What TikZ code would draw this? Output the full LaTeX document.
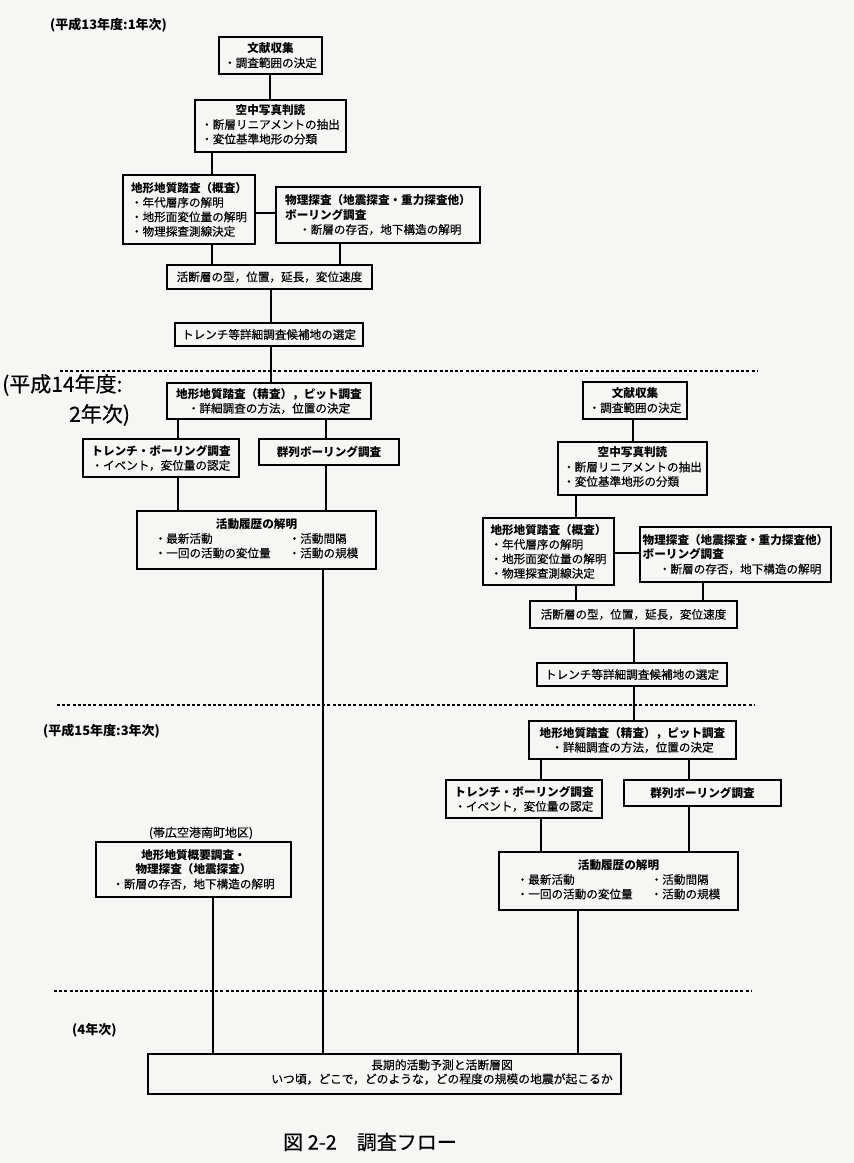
\documentclass[tikz,border=0pt]{standalone}
\usepackage{fontspec}
\setmainfont{Noto Sans CJK JP}[UprightFeatures={FakeBold=0.35}]
\definecolor{bgc}{RGB}{246,246,244}
\begin{document}
\begin{tikzpicture}[x=1pt,y=-1pt,
  bx/.style={draw, line width=1.5pt, inner sep=0pt, font=\fontsize{11.6}{14.5}\selectfont},
  ln/.style={line width=1.3pt},
  dl/.style={line width=1.3pt, dash pattern=on 3pt off 2.2pt},
  yr/.style={font=\bfseries\fontsize{13}{15}\selectfont, anchor=west, inner sep=0pt},
  big/.style={font=\fontsize{21}{23}\selectfont, anchor=west, inner sep=0pt}]
\fill[bgc] (0,0) rectangle (854,1163);
\useasboundingbox (0,0) rectangle (854,1163);

% ---------- labels ----------
\node[yr] (y1) at (50,25) {(平成13年度:1年次)};
\node[big] (y2a) at (2,385) {(平成14年度:};
\node[big] (y2b) at (69,415) {2年次)};
\node[yr] (y3) at (43,731) {(平成15年度:3年次)};
\node[yr] (y4) at (72,1030) {(4年次)};
\node[font=\fontsize{12}{14}\selectfont, inner sep=0pt] (obi) at (201,833) {(帯広空港南町地区)};
\node[big, font=\fontsize{20}{22}\selectfont] (cap) at (283,1142) {図 2-2　調査フロー};

% ---------- dashed separators ----------
\draw[dl] (60,371) -- (757,371);
\draw[dl] (57,705) -- (755,705);
\draw[dl] (54,991) -- (752,991);

% ---------- year 1 ----------
\node[bx, minimum width=103pt, minimum height=37pt, align=center] (a1) at (270.5,55.5)
  {{\bfseries 文献収集}\\・調査範囲の決定};
\node[bx, minimum width=151pt, minimum height=52pt] (a2) at (270.5,126)
  {\begin{tabular}{@{}l@{}}\multicolumn{1}{@{}c@{}}{\bfseries 空中写真判読}\\・断層リニアメントの抽出\\・変位基準地形の分類\end{tabular}};
\node[bx, minimum width=132pt, minimum height=69pt, align=left] (a3) at (189,209.5)
  {{\bfseries 地形地質踏査（概査）}\\・年代層序の解明\\・地形面変位量の解明\\・物理探査測線決定};
\node[bx, minimum width=204pt, minimum height=56pt, align=left] (a4) at (378,215)
  {{\bfseries 物理探査（地震探査・重力探査他）}\\{\bfseries ボーリング調査}\\\hspace*{1.2em}・断層の存否，地下構造の解明};
\node[bx, minimum width=205pt, minimum height=24pt] (a5) at (269.5,277)
  {活断層の型，位置，延長，変位速度};
\node[bx, minimum width=188pt, minimum height=23pt] (a6) at (269,334.5)
  {トレンチ等詳細調査候補地の選定};

% ---------- year 2 left ----------
\node[bx, minimum width=204pt, minimum height=36pt, align=center] (b1) at (269,401)
  {{\bfseries 地形地質踏査（精査），ピット調査}\\・詳細調査の方法，位置の決定};
\node[bx, minimum width=156pt, minimum height=38pt, align=left] (b2) at (161,458)
  {{\bfseries トレンチ・ボーリング調査}\\・イベント，変位量の認定};
\node[bx, minimum width=140pt, minimum height=26pt] (b3) at (329,452)
  {{\bfseries 群列ボーリング調査}};
\node[bx, minimum width=239pt, minimum height=58pt] (b4) at (256.5,540)
  {\begin{tabular}{@{}l@{\hspace{18pt}}l@{}}\multicolumn{2}{c}{\bfseries 活動履歴の解明}\\・最新活動 & ・活動間隔\\・一回の活動の変位量 & ・活動の規模\end{tabular}};

% ---------- year 2 right ----------
\node[bx, minimum width=104pt, minimum height=37pt, align=center] (c1) at (635,400.5)
  {{\bfseries 文献収集}\\・調査範囲の決定};
\node[bx, minimum width=149pt, minimum height=53pt] (c2) at (632.5,468.5)
  {\begin{tabular}{@{}l@{}}\multicolumn{1}{@{}c@{}}{\bfseries 空中写真判読}\\・断層リニアメントの抽出\\・変位基準地形の分類\end{tabular}};
\node[bx, minimum width=131pt, minimum height=67pt, align=left] (c3) at (548.5,551.5)
  {{\bfseries 地形地質踏査（概査）}\\・年代層序の解明\\・地形面変位量の解明\\・物理探査測線決定};
\node[bx, minimum width=191pt, minimum height=55pt, align=left] (c4) at (735.5,554.5)
  {{\bfseries 物理探査（地震探査・重力探査他）}\\{\bfseries ボーリング調査}\\\hspace*{1.4em}・断層の存否，地下構造の解明};
\node[bx, minimum width=207pt, minimum height=27pt] (c5) at (633.5,614.5)
  {活断層の型，位置，延長，変位速度};
\node[bx, minimum width=190pt, minimum height=23pt] (c6) at (632,674.5)
  {トレンチ等詳細調査候補地の選定};

% ---------- year 3 ----------
\node[bx, minimum width=207pt, minimum height=38pt, align=center] (d1) at (632.5,740)
  {{\bfseries 地形地質踏査（精査），ピット調査}\\・詳細調査の方法，位置の決定};
\node[bx, minimum width=156pt, minimum height=38pt, align=left] (d2) at (524,799)
  {{\bfseries トレンチ・ボーリング調査}\\・イベント，変位量の認定};
\node[bx, minimum width=157pt, minimum height=26pt] (d3) at (702.5,793)
  {{\bfseries 群列ボーリング調査}};
\node[bx, minimum width=239pt, minimum height=58pt] (d4) at (618.5,881)
  {\begin{tabular}{@{}l@{\hspace{18pt}}l@{}}\multicolumn{2}{c}{\bfseries 活動履歴の解明}\\・最新活動 & ・活動間隔\\・一回の活動の変位量 & ・活動の規模\end{tabular}};
\node[bx, minimum width=195pt, minimum height=55pt, align=center] (f) at (193.5,869.5)
  {{\bfseries 地形地質概要調査・}\\{\bfseries 物理探査（地震探査）}\\・断層の存否，地下構造の解明};

% ---------- year 4 ----------
\node[bx, minimum width=473pt, minimum height=40pt] (e) at (384.5,1074) {};
\node[font=\fontsize{11.8}{14}\selectfont, align=center, inner sep=0pt] (et) at (442,1072)
  {長期的活動予測と活断層図\\いつ頃，どこで，どのような，どの程度の規模の地震が起こるか};

% ---------- connectors ----------
\draw[ln] (270,0 |- a1.south) -- (270,0 |- a2.north);
\draw[ln] (212,0 |- a2.south) -- (212,0 |- a3.north);
\draw[ln] (a3.east |- 0,213) -- (a4.west |- 0,213);
\draw[ln] (212,0 |- a3.south) -- (212,0 |- a5.north);
\draw[ln] (340,0 |- a4.south) -- (340,0 |- a5.north);
\draw[ln] (271,0 |- a5.south) -- (271,0 |- a6.north);
\draw[ln] (271,0 |- a6.south) -- (271,0 |- b1.north);

\draw[ln] (178,0 |- b1.south) -- (178,0 |- b2.north);
\draw[ln] (326,0 |- b1.south) -- (326,0 |- b3.north);
\draw[ln] (178,0 |- b2.south) -- (178,0 |- b4.north);
\draw[ln] (326,0 |- b3.south) -- (326,0 |- b4.north);
\draw[ln] (323,0 |- b4.south) -- (323,0 |- e.north);

\draw[ln] (633,0 |- c1.south) -- (633,0 |- c2.north);
\draw[ln] (576,0 |- c2.south) -- (576,0 |- c3.north);
\draw[ln] (c3.east |- 0,553) -- (c4.west |- 0,553);
\draw[ln] (576,0 |- c3.south) -- (576,0 |- c5.north);
\draw[ln] (703,0 |- c4.south) -- (703,0 |- c5.north);
\draw[ln] (634,0 |- c5.south) -- (634,0 |- c6.north);
\draw[ln] (634,0 |- c6.south) -- (634,0 |- d1.north);

\draw[ln] (541,0 |- d1.south) -- (541,0 |- d2.north);
\draw[ln] (689,0 |- d1.south) -- (689,0 |- d3.north);
\draw[ln] (541,0 |- d2.south) -- (541,0 |- d4.north);
\draw[ln] (689,0 |- d3.south) -- (689,0 |- d4.north);
\draw[ln] (578,0 |- d4.south) -- (578,0 |- e.north);
\draw[ln] (213,0 |- f.south) -- (213,0 |- e.north);
\end{tikzpicture}
\end{document}
